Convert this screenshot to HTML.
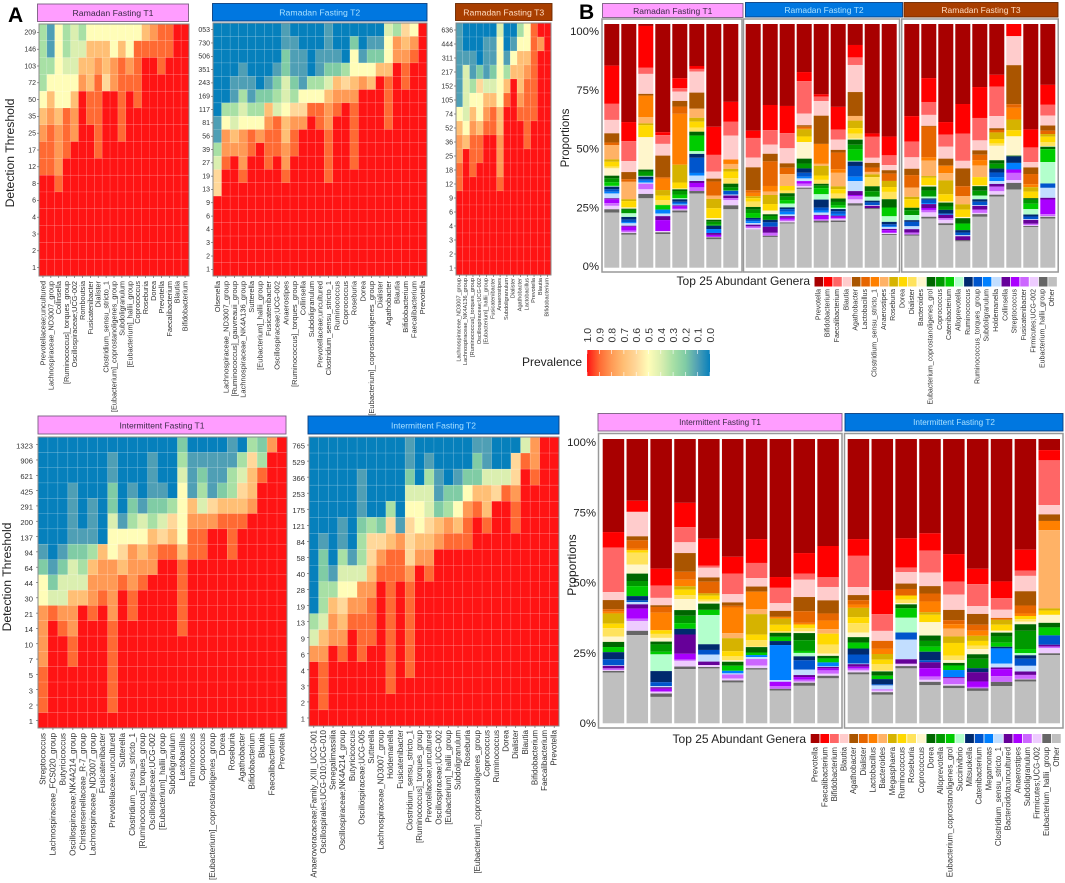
<!DOCTYPE html>
<html lang="en">
<head>
<meta charset="utf-8">
<title>Core microbiome prevalence heatmaps and genus proportions</title>
<style>
html,body{margin:0;padding:0;background:#fff;}
svg{display:block;font-family:"Liberation Sans",Arial,sans-serif;}
</style>
</head>
<body>
<svg id="figure" xmlns="http://www.w3.org/2000/svg" width="1065" height="883" viewBox="0 0 1065 883">
<defs>
<linearGradient id="prevalenceGradient" x1="0" x2="1" y1="0" y2="0"></linearGradient>
</defs>
<text x="8" y="22" font-size="21" font-weight="bold" fill="#000">A</text>
<text x="579" y="19" font-size="21" font-weight="bold" fill="#000">B</text>
<text transform="translate(10,153) rotate(-90)" text-anchor="middle" dominant-baseline="central" font-size="12.2" fill="#222">Detection Threshold</text>
<text transform="translate(7,577) rotate(-90)" text-anchor="middle" dominant-baseline="central" font-size="12.2" fill="#222">Detection Threshold</text>
<text transform="translate(566,138) rotate(-90)" text-anchor="middle" dominant-baseline="central" font-size="11.5" fill="#222">Proportions</text>
<text transform="translate(572,565) rotate(-90)" text-anchor="middle" dominant-baseline="central" font-size="12" fill="#222">Proportions</text>
<text x="810" y="281" text-anchor="end" dominant-baseline="central" font-size="12" fill="#222">Top 25 Abundant Genera</text>
<text x="806" y="739" text-anchor="end" dominant-baseline="central" font-size="12" fill="#222">Top 25 Abundant Genera</text>
<text x="582" y="362" text-anchor="end" dominant-baseline="central" font-size="12" fill="#222">Prevalence</text>
</svg>
<script>
/* ---------- prevalence colour legend ---------- */
const prevalenceTicks = ["1.0","0.9","0.8","0.7","0.6","0.5","0.4","0.3","0.2","0.1","0.0"];
const prevalenceColors = ["#FF1414","#FF6A33","#FF9A55","#FFBF75","#FFD89A","#FFFDB8","#DBEFB0","#A8E0A5","#80CCA5","#4F9FB5","#0680BC"];

/* ---------- Ramadan T1 heatmap (tenths of prevalence, column top to bottom; rows not listed are 10) ---------- */
const rfT1Thresholds = ["209","146","103","72","50","35","25","17","12","8","6","4","3","2","1"];
const rfT1Genera = ["Prevotellaceae;uncultured","Lachnospiraceae_ND3007_group","Collinsella","[Ruminococcus]_torques_group","Oscillospiraceae;UCG-002","Romboutsia","Fusicatenibacter","Dialister","Clostridium_sensu_stricto_1","[Eubacterium]_coprostanoligenes_group","Subdoligranulum","[Eubacterium]_hallii_group","Coprococcus","Roseburia","Dorea","Prevotella","Faecalibacterium","Blautia","Bifidobacterium"];
const rfT1Prevalence = [
[3,3,3,3,5,7,8,9,9],
[1,1,3,5,7,8,9,9,9],
[5,5,5,5,5,7,8,8,8,9],
[3,3,4,5,5,9,9,9],
[4,4,4,5,7,8,8],
[3,4,7,8],
[5,7,7,7,9,9],
[5,7,8,9,9,9,9,9],
[5,7,7,6],
[5,5,8,8],
[5,7,9,9,9,9,9],
[5,5,8,9],
[5,9,9,9,9],
[7,9],
[8,9],
[9,9,9],
[9,9],
[],
[]
];

/* ---------- Ramadan T2 heatmap ---------- */
const rfT2Thresholds = ["053","730","506","351","243","169","117","81","56","39","27","19","13","9","6","4","3","2","1"];
const rfT2Genera = ["Olsenella","Lachnospiraceae_ND3007_group","[Ruminococcus]_gauvreauii_group","Lachnospiraceae_NK4A136_group","Sutterella","[Eubacterium]_hallii_group","Fusicatenibacter","Oscillospiraceae;UCG-002","Anaerostipes","[Ruminococcus]_torques_group","Collinsella","Subdoligranulum","Prevotellaceae;uncultured","Clostridium_sensu_stricto_1","Ruminococcus","Coprococcus","Roseburia","Dorea","[Eubacterium]_coprostanoligenes_group","Dialister","Agathobacter","Blautia","Bifidobacterium","Faecalibacterium","Prevotella"];
const rfT2Prevalence = [
[0,0,0,0,0,0,0,1,1,3,4,6,6],
[0,0,0,0,0,0,3,5,8,8,9],
[0,0,0,0,1,1,3,4,7,8],
[0,0,0,1,1,3,4,5,8,8,8,9],
[0,0,0,0,1,1,3,5,9,9],
[0,0,0,0,0,2,3,5,8],
[0,0,0,0,1,2,7,8,9,9,9],
[0,0,0,1,2,3,4,9,9,9],
[1,1,2,2,4,4,5,7,7,8,8,9],
[0,1,1,1,2,3,6,8,9,9],
[0,0,1,1,1,5,6,8],
[0,0,0,0,3,5,9],
[0,0,1,1,3,5,9,9],
[1,1,1,2,4,7,8,8,9,9,9,9],
[0,0,1,2,7,8,9],
[0,0,0,3,6,8],
[0,2,5,5,7,8,9,9,9,9,9],
[0,0,1,5,8],
[0,1,2,5,7],
[0,1,2,7],
[4,5,5,7,9,9,9,9],
[3,8,8],
[6,7,8,9,9],
[5,8,9],
[]
];

/* ---------- Ramadan T3 heatmap ---------- */
const rfT3Thresholds = ["636","444","311","217","152","105","74","52","36","25","18","12","9","6","4","3","2","1"];
const rfT3Genera = ["Lachnospiraceae_ND3007_group","Lachnospiraceae_NK4A136_group","[Ruminococcus]_torques_group","Oscillospiraceae;UCG-002","[Eubacterium]_hallii_group","Fusicatenibacter","Anaerostipes","Subdoligranulum","Dialister","Agathobacter","Lactobacillus","Prevotella","Blautia","Bifidobacterium"];
const rfT3Prevalence = [
[1,1,1,1,1,1,5,7,8,8,9,9],
[0,0,1,4,4,4,4,5,7],
[0,0,1,1,3,5,7,8,9,9,9],
[0,0,0,2,6,5,5,7,9,9],
[0,1,1,1,4,7,8,9],
[0,1,1,2,4,7,9,9],
[4,5,5,5,5,5,7,7,8,8,8,9],
[0,0,1,3,7,9],
[0,1,5,7],
[3,5,7,7,7,8,9],
[5,5,7,8,9,9,9,9,9],
[9,9,9,9,9,9,9],
[10,8],
[]
];

/* ---------- Intermittent T1 heatmap ---------- */
const ifT1Thresholds = ["1323","906","621","425","291","200","137","94","64","44","30","21","14","10","7","5","3","2","1"];
const ifT1Genera = ["Streptococcus","Lachnospiraceae_FCS020_group","Butyricicoccus","Oscillospiraceae;NK4A214_group","Christensenellaceae_R-7_group","Lachnospiraceae_ND3007_group","Fusicatenibacter","Prevotellaceae;uncultured","Sutterella","Clostridium_sensu_stricto_1","[Ruminococcus]_torques_group","Oscillospiraceae;UCG-002","[Eubacterium]_hallii_group","Subdoligranulum","Lactobacillus","Ruminococcus","Coprococcus","[Eubacterium]_coprostanoligenes_group","Dorea","Roseburia","Agathobacter","Bifidobacterium","Blautia","Faecalibacterium","Prevotella"];
const ifT1Prevalence = [
[0,0,0,0,0,0,0,1,2,5,5,8,8,8,8,9,9,9],
[0,0,0,0,0,0,0,0,1,2,4,9],
[0,0,0,0,0,0,0,1,2,4,4,8,9],
[0,0,0,1,1,1,1,2,4,4,7,8,8,9,9],
[0,0,0,0,0,0,1,2,3,4,7],
[0,0,0,0,1,1,1,3,7,8,8,9],
[0,0,0,0,0,0,0,7,8,8,9],
[0,1,1,2,2,4,5,5,8,8,8,8,9,9,9,9,9,9],
[0,0,0,0,0,1,5,6,7,9],
[0,0,0,1,2,3,5,8,8,8,9,9],
[0,0,0,0,1,4,5,7,8,9],
[0,1,1,1,2,3,7,8,8],
[0,0,0,1,2,4,6,9],
[0,0,0,0,3,6,7,9],
[2,3,4,5,5,5,5,7,9,9,9,9,9],
[0,1,1,1,7,8,9,9],
[0,1,2,3,4,8,9,9],
[0,1,1,1,6,8],
[0,1,1,2,7,9],
[1,1,3,3,7,9,9,9],
[0,3,4,6,7,9],
[3,6,7,7,8],
[2,3,9],
[8],
[]
];

/* ---------- Intermittent T2 heatmap ---------- */
const ifT2Thresholds = ["765","529","366","253","175","121","84","58","40","28","19","13","9","6","4","3","2","1"];
const ifT2Genera = ["Anaerovoracaceae;Family_XIII_UCG-001","Oscillospirales;UCG-010;UCG-010","Senegalimassilia","Oscillospiraceae;NK4A214_group","Butyricicoccus","Oscillospiraceae;UCG-005","Sutterella","Lachnospiraceae_ND3007_group","Holdemanella","Fusicatenibacter","Clostridium_sensu_stricto_1","[Ruminococcus]_torques_group","Prevotellaceae;uncultured","Oscillospiraceae;UCG-002","[Eubacterium]_hallii_group","Subdoligranulum","Roseburia","[Eubacterium]_coprostanoligenes_group","Coprococcus","Ruminococcus","Dorea","Dialister","Blautia","Bifidobacterium","Faecalibacterium","Prevotella"];
const ifT2Prevalence = [
[0,0,0,0,0,0,0,0,0,0,0,3,4,8],
[0,0,0,0,0,0,1,2,2,3,3,4,7,8,9,9,9],
[0,0,0,0,0,0,0,0,1,3,7,8,8],
[0,0,0,0,0,1,1,3,4,5,6,7,8,9],
[0,0,0,0,0,0,0,1,4,5,8,9],
[0,0,1,1,1,2,3,3,4,8,8,9,9,9],
[0,0,0,0,0,3,6,6,7,8,9,9,9],
[0,0,0,0,0,2,6,8,9],
[0,0,0,0,3,6,7,9,9,9,9,9,9,9,9,9],
[0,0,0,0,0,1,8,9,9],
[1,1,2,4,5,6,6,6,8,9,9,9,9,9,9],
[0,0,0,4,5,5,7,8],
[0,1,3,4,4,6,7,8,9],
[0,0,1,1,2,7,8],
[0,0,0,2,3,8,9],
[0,0,1,2,5,7,9],
[0,0,2,5,8,9,9],
[1,2,2,7,9],
[1,1,4,7,7,9],
[0,0,4,6],
[0,0,4,9],
[0,6,6,8,9,9],
[4,9],
[8,8,9],
[],
[]
];

/* ---------- genus colours shared by both bar panels ---------- */
const genusColors = ["#A80000","#FF0000","#FF6666","#FFCCCC","#AA5500","#E66600","#FF8000","#FFB266","#D6B300","#FFD900","#FFE35C","#FFF6CC","#006600","#009900","#00CC00","#B3FFCC","#002A6E","#0055CC","#0080FF","#C2DEFF","#660099","#AA00FF","#CC66FF","#EECCFF","#666666","#BFBFBF"];
const ramadanLegendGenera = ["Prevotella","Bifidobacterium","Faecalibacterium","Blautia","Agathobacter","Lactobacillus","Clostridium_sensu_stricto_1","Anaerostipes","Roseburia","Dorea","Dialister","Bacteroides","Eubacterium_coprostanoligenes_grol","Coprococcus","Catenibacterium","Alloprevotella","Ruminococcus","Ruminococcus_torques_group","Subdoligranulum","Holdemanella","Collinsella","Streptococcus","Fusicatenibacter","Firmicutes;UCG-002","Eubacterium_hallii_group","Other"];
const intermittentLegendGenera = ["Prevotella","Faecalibacterium","Bifidobacterium","Blautia","Agathobacter","Dialister","Lactobacillus","Bacteroides","Megasphaera","Ruminococcus","Roseburia","Coprococcus","Dorea","Alloprevotella","Eubacterium_coprostanoligenes_grol","Succinivibrio","Mitsuokella","Catenibacterium","Megamonas","Clostridium_sensu_stricto_1","Bacteroidota;uncultured","Anaerostipes","Subdoligranulum","Firmicutes;UCG-002","Eubacterium_hallii_group","Other"];
const proportionTicks = [100,75,50,25,0];

/* ---------- stacked proportions: one row per sample, % per genus in legend order ---------- */
const rfT1Proportions = [
[17.1,15.7,6.6,5.5,3.8,1,0,5.9,1,2,.7,3,1.1,1.6,1.5,.3,1.1,1,.7,2,.4,1.6,1.1,1.4,1.4,22.6],
[40.2,7.8,8.2,4.5,2.9,1.1,0,7.1,.8,2.6,0,.5,.5,1.4,0,1.5,1.1,1,.5,1,.4,1.6,.7,.3,.7,13.5],
[.8,17.2,2.5,8.2,.7,0,8.8,2.6,.8,4.9,0,13.3,.8,1.8,0,.3,1,.7,.7,.5,0,0,2.3,1.9,1.8,28.5],
[44.3,1.2,3.6,4.8,8.9,.5,4.7,0,2.3,1.9,1.9,0,0,.1,1.8,0,0,0,1.6,1.1,1.6,4.5,0,.5,.7,13.8],
[22.3,4,1.5,3.8,2.3,3,20.9,0,7.3,2.5,0,.3,.7,1.6,1.4,.4,1,.7,.5,.3,.4,1,.3,.4,.8,22.7],
[17.2,1.2,1.1,8.6,6.6,0,0,3.7,1.6,2.5,1.6,0,1.6,0,6.4,1.1,1.6,6.2,1.1,2.2,.8,1.8,1.5,0,1,30.4],
[42,11.5,6.8,2.9,1.2,5.7,0,1.4,3.8,4,0,.7,.8,1.2,.4,0,1.4,0,1.6,0,.8,.8,0,.2,.8,11.6],
[31.6,8.1,5.6,9.7,0,0,1.8,2,1.1,2.7,2.2,0,1.5,1.3,0,.1,0,1.5,0,.4,1.1,0,.8,2.1,1.6,23.7]
];
const rfT2Proportions = [
[43.9,3,8.1,4,9.4,1.1,1.4,0,.8,1.4,2.2,0,1.1,1.4,2,0,.7,.7,.7,.7,.7,0,.7,.7,.1,15.5],
[33.2,10.3,5.9,3.8,3.1,10.1,2.3,1.4,3.7,2.7,0,1.5,.7,1.6,0,0,1,1.8,0,0,2.5,0,1.2,0,.5,12.6],
[33.7,11.2,6.2,6.2,1.8,2.6,0,4.9,0,1.9,1.1,0,1.4,1.4,1.4,1.6,.7,1.1,1.1,.7,.7,.7,.7,.5,.4,18.2],
[19.7,3.7,13.3,4.8,.6,.8,.3,0,2.9,2.3,0,6.8,2,2,0,0,1.8,1.6,.7,1.1,0,1,1,.7,.5,32.3],
[28.9,1,1.8,6,11.6,0,8.2,.8,4,1.8,1.6,0,.8,1,2.5,2.2,3.3,1.2,.8,1,.3,1.4,.7,0,.7,18.6],
[33.9,9.3,4.1,4.2,1.1,6.8,1.5,5.5,1.2,1.8,2,0,1.4,1.4,1,.5,.9,1.1,.7,0,.4,.6,.5,.5,.7,18.6],
[8.6,5.1,3.1,11.1,9.8,0,0,1.9,3.1,2.3,2,.4,2.1,1.9,4.7,.3,1.8,4.4,1.8,4.1,1.6,.4,1.4,1.6,1,25.4],
[44.9,1.4,8.6,2.1,1.9,1.8,0,1,1.1,0,3.8,0,2,2.3,0,1.6,.7,1.1,0,.3,1,0,0,0,.4,24],
[46.2,7.7,4,2.1,1.4,3,0,0,2.5,2,3,0,3.4,0,3.6,2.3,1,.8,.3,.8,.5,1.1,0,.5,.4,13.4]
];
const rfT3Proportions = [
[37.8,10.5,6.4,4.7,2.6,5.1,0,3.8,1,3.5,0,0,1,2,0,2.1,.7,1.8,0,1.2,1.4,0,.8,0,.5,13.1],
[22.2,9.8,5.3,4.5,.3,12.6,1.4,6.3,.7,3.1,0,.5,1.6,2.5,0,.8,.5,1.4,.4,0,1.6,.8,1,1.8,.7,20.2],
[40.2,5.2,4.9,4.9,2.9,0,3,3,5.7,3,0,.4,1.6,1.4,0,0,1.6,0,.4,0,1.4,0,.7,1.4,.8,17.4],
[32.8,12.2,11.1,3.1,7.3,4.1,0,3.3,2.2,3,0,.5,2.2,0,2.7,0,1,1.1,0,.4,1.6,0,0,0,.5,10.8],
[25.9,12.7,9.2,4.1,1.8,2.2,2.2,4.8,0,3.4,0,.3,1.9,2,0,1.5,1,1.4,0,.3,1.5,0,1.4,.5,1.1,20.9],
[20.8,4.9,12,5,.7,1,0,0,2.7,1.8,1,5.9,1.4,2,0,0,1.6,2,1.5,1.2,1.1,0,1.9,1.4,.8,29.1],
[0,5,0,11.9,16,1.5,4.8,0,4.4,2.5,0,7.9,.3,0,0,0,2.7,0,2.7,0,0,1.4,3,1.1,2.7,32.1],
[43.2,7.4,6,2.2,2.7,4.2,1.2,0,1.8,2.7,0,0,.7,1.6,2.2,2.2,.8,1.1,0,.3,1.6,0,.6,.3,.4,16.7],
[25,8.2,4.4,4.1,2.1,1.4,0,0,1.1,2.3,1.5,.3,1,0,5.3,8.8,0,1.8,0,4.1,.7,6,.8,.3,.7,20.2]
];
const ifT1Proportions = [
[32.7,5.5,15.6,2.8,3.2,.9,.6,0,3.6,1.6,2.9,1.9,1.8,0,1.8,0,2.5,2.1,0,.2,.9,0,.6,.3,.6,17.8],
[21.7,3.9,0,8.6,1.4,2.9,.6,0,0,.8,4.2,3.2,2.6,1.8,3.5,0,1.5,.6,0,.8,1.5,3.5,.9,3.4,1.5,31],
[45.7,6,4.3,2.6,.6,2,6.2,0,0,1.3,1.4,1.3,1,2.6,.9,5.9,3.9,1.4,0,.4,.5,1,0,.7,1.2,9.3],
[22.5,8.6,5.3,3.8,6.6,2.8,2.3,0,1.2,1.9,1.4,3.9,2,2.6,2,0,2,0,0,0,6.8,2,.5,2,.9,19.1],
[35.1,9.4,.8,3.4,1.5,4.1,0,0,.8,1.4,.7,.7,2.2,0,1.8,10.3,2,1.6,0,2.5,1.2,0,0,.7,.5,19.3],
[41.5,5.9,7.3,2.9,1.2,.6,9,1.8,4.6,1.8,1.4,.5,1.4,0,1.8,0,0,0,.9,.4,0,0,1.4,.7,.7,14.4],
[35.2,8.4,5.3,3,1.8,0,6.1,1.8,7.2,2,2.3,.1,1.9,0,.9,0,0,0,.7,.7,0,0,2.3,.9,.5,18.9],
[48.5,3.8,5.4,2.7,2.1,0,.6,0,2.2,2.2,.6,0,1.4,0,1.5,0,1.4,0,12.3,.6,0,1.5,1,0,.6,11.5],
[40.2,7.3,2.1,6.1,5,4.1,.6,0,0,1.2,1.2,.6,2.5,3.8,.7,1.2,1.4,3.3,0,1.9,.7,.9,.7,.4,1.1,13.2],
[37.6,11,3.4,4.7,4.6,2.5,3,1.6,0,3.8,3.2,.8,.9,0,1.4,0,0,0,1.4,.2,.5,.7,1.2,.7,.9,15.8]
];
const ifT2Proportions = [
[35.2,5.9,11,2.8,1.8,1.5,1.2,0,3.3,2.1,3.3,1.6,1.9,0,2.1,0,2.1,3.2,0,.2,.9,.6,.7,.7,.7,17.2],
[53.1,8.3,5.9,3.5,0,2.8,1.8,0,2,1.5,2.4,.2,1.5,0,1.2,0,1.8,.4,0,1.4,0,0,.4,.6,.9,10],
[34.9,10.3,1.6,4,1.9,2.3,0,0,0,1.5,1.2,.4,1.4,0,3.3,5.2,0,2.5,0,6.9,1.6,0,0,.8,.8,19.3],
[33.2,6.1,7.7,4.8,2.6,2.8,3.8,0,.9,2.6,0,4.7,1.9,2,1.8,0,3,.7,0,0,2.1,2.9,1.2,.7,1.2,13.4],
[40.4,9.7,4.5,5.4,3.6,1.4,1.6,2.7,2.3,4.5,1.5,1,.9,0,1.6,0,0,0,2.5,0,.4,0,2.1,.5,.9,12.3],
[45.7,5.4,7.7,2.8,3.8,2.1,1.8,0,1.8,1.6,1.3,1.8,1.6,3.3,0,0,1.4,0,0,0,3.3,1.9,.5,0,.9,11.4],
[52.3,6.1,4.3,3,0,.7,0,0,1.8,2.2,0,.7,1.4,2.3,1.5,0,.6,0,5.6,1.4,.6,2.6,2.1,0,1.5,13.7],
[38.9,7.3,1.9,5.4,5,2.8,.9,0,0,1.1,.9,.9,2.3,6.4,1.4,.8,1.2,2.5,0,2,1.2,0,1.4,.2,.7,14.7],
[3.9,3.6,15.7,3.3,2.3,0,3.2,27.5,.8,1.5,0,2.8,1.6,0,2.8,0,0,3.3,0,0,.6,0,.6,1.8,.6,24]
];

/* ---------- drawing helpers ---------- */
const svgNS = "http://www.w3.org/2000/svg";
const figure = document.getElementById("figure");
const BAR_SEGMENT_NAMES = ramadanLegendGenera.map(function (g) { return g.toLowerCase().replace(/[^a-z0-9]+/g, "-"); });

function make(tag, props, parent) {
  const el = document.createElementNS(svgNS, tag);
  Object.keys(props).forEach(function (k) { el.setAttribute(k, props[k]); });
  (parent || figure).appendChild(el);
  return el;
}
function hexToRgb(h) {
  return [parseInt(h.slice(1, 3), 16), parseInt(h.slice(3, 5), 16), parseInt(h.slice(5, 7), 16)];
}
function prevalenceColor(tenths) {
  const t = Math.max(0, Math.min(10, tenths));
  const pos = 10 - t;
  const lo = Math.floor(pos);
  const hi = Math.min(10, lo + 1);
  const f = pos - lo;
  const a = hexToRgb(prevalenceColors[lo]);
  const b = hexToRgb(prevalenceColors[hi]);
  return "rgb(" + [0, 1, 2].map(function (i) { return Math.round(a[i] + (b[i] - a[i]) * f); }).join(",") + ")";
}
function drawStrip(label, kind, x, y, w, h, fontSize) {
  const fills = { t1: "#FF9DFF", t2: "#0077E0", t3: "#A83E00" };
  const strokes = { t1: "#7A5F80", t2: "#0B3E80", t3: "#6B2A00" };
  const inks = { t1: "#3C2A48", t2: "#A8E0FF", t3: "#FFDCC0" };
  const slug = label.toLowerCase().replace(/\s+/g, "-");
  const r = make("rect", { x: x, y: y, width: w, height: h, fill: fills[kind], stroke: strokes[kind], "stroke-width": 0.9 });
  
  
  const t = make("text", { x: x + w / 2, y: y + h / 2 + 0.3, "text-anchor": "middle", "dominant-baseline": "central", "font-size": fontSize, fill: inks[kind] });
  
  
  t.textContent = label;
}
function drawHeatmap(name, thresholds, genera, prevalence, box, labelStyle) {
  const cw = box.w / genera.length;
  const rh = box.h / thresholds.length;
  const xPos = function (i) { return box.x + i * cw; };
  const yPos = function (r) { return box.y + r * rh; };
  const group = make("g", {});
  
  
  prevalence.forEach(function (col, c) {
    thresholds.forEach(function (th, r) {
      const tenths = r < col.length ? col[r] : 10;
      const cell = make("rect", { x: xPos(c), y: yPos(r), width: cw, height: rh, fill: prevalenceColor(tenths), stroke: "#fff", "stroke-opacity": 0.22, "stroke-width": 0.5 }, group);
      
      
    });
  });
  const frame = make("rect", { x: box.x, y: box.y, width: box.w, height: box.h, fill: "none", stroke: "#8a8a8a", "stroke-width": 1 });
  
  
  thresholds.forEach(function (th, r) {
    const cy = yPos(r) + rh / 2;
    const tick = make("line", { x1: box.x - 2, x2: box.x, y1: cy, y2: cy, stroke: "#555", "stroke-width": 0.6 });
    
    
    const t = make("text", { x: box.x - labelStyle.yGap, y: cy + labelStyle.yShift, "text-anchor": "end", "dominant-baseline": "central", "font-size": labelStyle.ySize, fill: "#333" });
    
    
    t.textContent = th;
  });
  genera.forEach(function (g, c) {
    const cx = xPos(c) + cw / 2;
    const tick = make("line", { x1: cx, x2: cx, y1: box.y + box.h, y2: box.y + box.h + 2, stroke: "#555", "stroke-width": 0.6 });
    
    
    const t = make("text", { transform: "translate(" + cx + "," + labelStyle.xTop + ") rotate(-90)", "text-anchor": "end", "dominant-baseline": "central", "font-size": labelStyle.xSize, fill: "#333" });
    
    
    t.textContent = g;
  });
}
function drawBars(name, proportions, box, bars) {
  const frame = make("rect", { x: box.x, y: box.y, width: box.w, height: box.h, fill: "#fff", stroke: "#999", "stroke-width": 1.5 });
  
  
  const yScale = function (p) { return bars.bottom - (p / 100) * (bars.bottom - bars.top); };
  const xScale = function (i) { return bars.start + i * bars.pitch; };
  proportions.forEach(function (sample, s) {
    const total = sample.reduce(function (a, b) { return a + b; }, 0);
    let remaining = 100;
    const group = make("g", {});
    
    
    sample.forEach(function (v, g) {
      const share = v / total * 100;
      if (share <= 0) return;
      const seg = make("rect", { x: xScale(s), y: yScale(remaining), width: bars.width, height: yScale(remaining - share) - yScale(remaining), fill: genusColors[g] }, group);
      
      
      remaining -= share;
    });
  });
}
function drawPercentAxis(name, rightX, y100, y0, fontSize) {
  proportionTicks.forEach(function (p) {
    const t = make("text", { x: rightX, y: y0 - (p / 100) * (y0 - y100), "text-anchor": "end", "dominant-baseline": "central", "font-size": fontSize, fill: "#222" });
    
    
    t.textContent = p + "%";
  });
}
function drawGenusLegend(name, labels, x0, pitch, size, y, h, labelTop, fontSize) {
  labels.forEach(function (g, i) {
    const sw = make("rect", { x: x0 + i * pitch, y: y, width: size, height: h, fill: genusColors[i] });
    
    
    const t = make("text", { transform: "translate(" + (x0 + i * pitch + size / 2) + "," + labelTop + ") rotate(-90)", "text-anchor": "end", "dominant-baseline": "central", "font-size": fontSize, fill: "#333" });
    
    
    t.textContent = g;
  });
}

/* ---------- prevalence legend ---------- */
const gradient = document.getElementById("prevalenceGradient");
prevalenceColors.forEach(function (c, i) {
  make("stop", { offset: (i / (prevalenceColors.length - 1) * 100) + "%", "stop-color": c }, gradient);
});
const colorbar = make("rect", { x: 587, y: 350, width: 123, height: 26, fill: "url(#prevalenceGradient)" });


prevalenceTicks.forEach(function (label, i) {
  const x = 587 + 123 * i / (prevalenceTicks.length - 1);
  [[350, 354], [372, 376]].forEach(function (seg) {
    const tk = make("line", { x1: x, x2: x, y1: seg[0], y2: seg[1], stroke: "#fff", "stroke-width": 0.6 });
    
    
  });
  const t = make("text", { transform: "translate(" + (x + 1) + ",342.5) rotate(-90)", "text-anchor": "start", "dominant-baseline": "central", "font-size": 10.5, fill: "#333" });
  
  
  t.textContent = label;
});

/* ---------- panel A heatmaps ---------- */
drawStrip("Ramadan Fasting T1", "t1", 37.5, 4, 151, 17.5, 8.7);
drawHeatmap("ramadan-t1", rfT1Thresholds, rfT1Genera, rfT1Prevalence, { x: 39, y: 24, w: 150, h: 252 }, { ySize: 7, yShift: 0.8, yGap: 3, xSize: 7.3, xTop: 281 });
drawStrip("Ramadan Fasting T2", "t2", 212.5, 3.5, 214.5, 17.5, 8.7);
drawHeatmap("ramadan-t2", rfT2Thresholds, rfT2Genera, rfT2Prevalence, { x: 213, y: 23, w: 214, h: 253 }, { ySize: 7, yShift: 0.8, yGap: 3, xSize: 7.5, xTop: 281 });
drawStrip("Ramadan Fasting T3", "t3", 455.5, 3.5, 96.5, 17, 8.7);
drawHeatmap("ramadan-t3", rfT3Thresholds, rfT3Genera, rfT3Prevalence, { x: 456, y: 23, w: 95, h: 252 }, { ySize: 7, yShift: 0.8, yGap: 3, xSize: 5.6, xTop: 278 });

/* ---------- intermittent heatmaps ---------- */
drawStrip("Intermittent Fasting T1", "t1", 38, 416, 248, 18, 8.5);
drawHeatmap("intermittent-t1", ifT1Thresholds, ifT1Genera, ifT1Prevalence, { x: 38, y: 437, w: 249, h: 291 }, { ySize: 7.6, yShift: 1.2, yGap: 5, xSize: 8.2, xTop: 733 });
drawStrip("Intermittent Fasting T2", "t2", 308, 416, 251, 18, 8.5);
drawHeatmap("intermittent-t2", ifT2Thresholds, ifT2Genera, ifT2Prevalence, { x: 309, y: 437, w: 250, h: 289 }, { ySize: 7.6, yShift: 1.2, yGap: 4, xSize: 8, xTop: 730 });

/* ---------- panel B stacked bars ---------- */
drawStrip("Ramadan Fasting T1", "t1", 602.5, 3.5, 140.5, 14, 8.5);
drawStrip("Ramadan Fasting T2", "t2", 745.5, 2.5, 157, 14.5, 8.5);
drawStrip("Ramadan Fasting T3", "t3", 904, 2.5, 154, 14.5, 8.5);
drawBars("ramadan-t1-proportions", rfT1Proportions, { x: 602, y: 19, w: 140, h: 253 }, { start: 604.3, pitch: 17, width: 15, top: 24, bottom: 267.7 });
drawBars("ramadan-t2-proportions", rfT2Proportions, { x: 743.5, y: 19, w: 156, h: 253 }, { start: 745.7, pitch: 17, width: 15, top: 24, bottom: 267.7 });
drawBars("ramadan-t3-proportions", rfT3Proportions, { x: 901.7, y: 19, w: 156.5, h: 253 }, { start: 904.3, pitch: 17, width: 15, top: 24, bottom: 267.7 });
drawPercentAxis("ramadan-proportion-axis", 599, 32, 267, 11.3);
drawGenusLegend("ramadan-legend", ramadanLegendGenera, 814.5, 9.35, 8.6, 277, 9.5, 289, 7);

drawStrip("Intermittent Fasting T1", "t1", 598, 413.5, 244, 17.5, 8.2);
drawStrip("Intermittent Fasting T2", "t2", 845, 413.5, 218, 17.5, 8.2);
drawBars("intermittent-t1-proportions", ifT1Proportions, { x: 598.5, y: 433.5, w: 243.5, h: 294.5 }, { start: 602.7, pitch: 23.85, width: 21.5, top: 439, bottom: 723.3 });
drawBars("intermittent-t2-proportions", ifT2Proportions, { x: 844.5, y: 433.5, w: 218.5, h: 294.5 }, { start: 847.7, pitch: 23.85, width: 21.5, top: 439, bottom: 723.3 });
drawPercentAxis("intermittent-proportion-axis", 596, 443, 724, 11.3);
drawGenusLegend("intermittent-legend", intermittentLegendGenera, 810.7, 9.65, 8.8, 734, 9, 747, 7.9);
</script>
</body>
</html>
